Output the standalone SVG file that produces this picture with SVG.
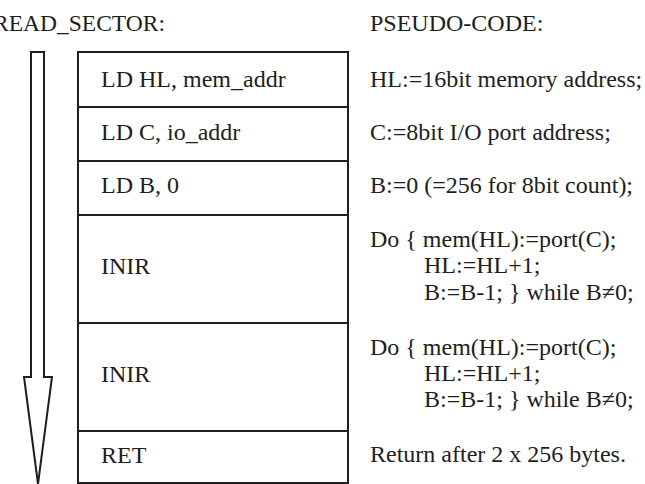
<svg xmlns="http://www.w3.org/2000/svg" width="645" height="484" viewBox="0 0 645 484">
<style>
text{font-family:"Liberation Serif","Times New Roman",serif;font-size:24px;fill:#1e1e1e}
.box{fill:#fff;stroke:#1e1e1e;stroke-width:2}
.arr{fill:#fff;stroke:#1e1e1e;stroke-width:2;stroke-linejoin:miter}
</style>
<rect width="645" height="484" fill="#fff"/>
<g id="titles">
<text x="-7" y="31" textLength="172" lengthAdjust="spacingAndGlyphs">READ_SECTOR:</text>
<text x="370" y="31">PSEUDO-CODE:</text>
</g>
<g id="connectors">
<path class="arr" d="M31,52 H44 V377 H52 L38,484 L24,377 H31 Z"/>
</g>
<g id="n1"><rect class="box" x="78" y="52" width="270" height="55"/><text x="101" y="87">LD HL, mem_addr</text><text x="370" y="87">HL:=16bit memory address;</text></g>
<g id="n2"><rect class="box" x="78" y="107" width="270" height="54"/><text x="101" y="140">LD C, io_addr</text><text x="370" y="140">C:=8bit I/O port address;</text></g>
<g id="n3"><rect class="box" x="78" y="161" width="270" height="54"/><text x="101" y="193">LD B, 0</text><text x="370" y="193">B:=0 (=256 for 8bit count);</text></g>
<g id="n4"><rect class="box" x="78" y="215" width="270" height="108"/><text x="101" y="274">INIR</text><text x="370" y="247">Do { mem(HL):=port(C);</text><text x="424" y="273">HL:=HL+1;</text><text x="424" y="300">B:=B-1; } while B≠0;</text></g>
<g id="n5"><rect class="box" x="78" y="323" width="270" height="108"/><text x="101" y="382">INIR</text><text x="370" y="355">Do { mem(HL):=port(C);</text><text x="424" y="381">HL:=HL+1;</text><text x="424" y="407">B:=B-1; } while B≠0;</text></g>
<g id="n6"><rect class="box" x="78" y="431" width="270" height="52"/><text x="101" y="463">RET</text><text x="370" y="462">Return after 2 x 256 bytes.</text></g>
</svg>
